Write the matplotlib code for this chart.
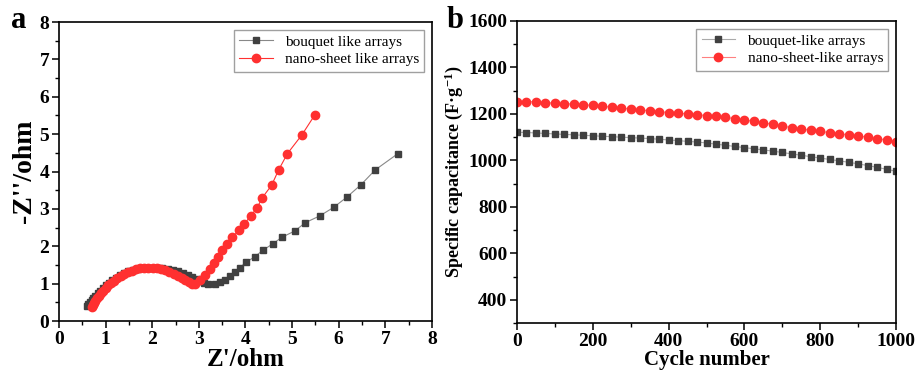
import numpy as np
import matplotlib
matplotlib.use("Agg")
import matplotlib.pyplot as plt
from matplotlib.ticker import MultipleLocator

plt.rcParams['font.family'] = ['Liberation Serif', 'DejaVu Serif']
plt.rcParams['mathtext.fontset'] = 'custom'
plt.rcParams['mathtext.bf'] = 'Liberation Serif:bold'
plt.rcParams['mathtext.rm'] = 'Liberation Serif'

# (a) Nyquist plot
bq_zre = [0.60, 0.63, 0.66, 0.70, 0.74, 0.78, 0.83, 0.88, 0.94, 1.00, 1.07, 1.14,
          1.22, 1.30, 1.39, 1.48, 1.58, 1.68, 1.78, 1.89, 2.00, 2.11, 2.22, 2.33,
          2.44, 2.55, 2.66, 2.76, 2.86, 2.95, 3.04, 3.12, 3.20, 3.35, 3.45, 3.56,
          3.67, 3.78, 3.88, 4.01, 4.20, 4.38, 4.58, 4.78, 5.06, 5.28, 5.59, 5.89,
          6.17, 6.48, 6.78, 7.27]
bq_zim = [0.40, 0.45, 0.50, 0.56, 0.62, 0.68, 0.74, 0.81, 0.88, 0.95, 1.02, 1.09,
          1.16, 1.22, 1.28, 1.33, 1.37, 1.40, 1.42, 1.43, 1.43, 1.43, 1.42, 1.40,
          1.37, 1.33, 1.28, 1.23, 1.18, 1.13, 1.08, 1.03, 0.99, 1.00, 1.05, 1.10,
          1.20, 1.30, 1.43, 1.57, 1.72, 1.90, 2.06, 2.24, 2.41, 2.63, 2.81, 3.04,
          3.31, 3.65, 4.04, 4.48]

ns_zre = [0.70, 0.72, 0.75, 0.78, 0.82, 0.86, 0.90, 0.95, 1.00, 1.06, 1.12, 1.18,
          1.25, 1.32, 1.40, 1.48, 1.56, 1.65, 1.74, 1.83, 1.92, 2.01, 2.10, 2.19,
          2.28, 2.37, 2.46, 2.55, 2.63, 2.71, 2.78, 2.85, 2.92, 3.02, 3.13, 3.24,
          3.33, 3.42, 3.50, 3.61, 3.72, 3.86, 3.97, 4.11, 4.25, 4.36, 4.56, 4.71,
          4.90, 5.21, 5.49]
ns_zim = [0.38, 0.42, 0.48, 0.54, 0.61, 0.68, 0.74, 0.81, 0.88, 0.95, 1.02, 1.08,
          1.14, 1.20, 1.26, 1.31, 1.35, 1.39, 1.41, 1.43, 1.43, 1.43, 1.41, 1.39,
          1.36, 1.32, 1.27, 1.21, 1.15, 1.09, 1.04, 1.00, 0.98, 1.10, 1.23, 1.38,
          1.54, 1.72, 1.90, 2.05, 2.24, 2.43, 2.59, 2.81, 3.03, 3.30, 3.63, 4.04,
          4.48, 4.98, 5.52]

# (b) cycling stability
cycles = list(range(0, 1001, 25))
bq_cap = [1121, 1120, 1118, 1116, 1114, 1112, 1110, 1108, 1106, 1104, 1102, 1100,
          1098, 1096, 1094, 1091, 1088, 1085, 1082, 1079, 1075, 1070, 1065, 1060,
          1055, 1050, 1045, 1040, 1034, 1028, 1022, 1016, 1010, 1004, 998, 992,
          985, 978, 970, 962, 953]
ns_cap = [1253, 1253, 1252, 1249, 1246, 1244, 1242, 1239, 1237, 1233, 1229, 1225,
          1221, 1217, 1214, 1210, 1206, 1203, 1200, 1197, 1193, 1189, 1185, 1180,
          1174, 1168, 1162, 1155, 1148, 1141, 1135, 1130, 1125, 1120, 1115, 1110,
          1105, 1100, 1094, 1088, 1080]

black = '#404040'
red = '#ff3030'

fig = plt.figure(figsize=(9.17, 3.73), dpi=100)
ax1 = fig.add_axes([0.0643, 0.1394, 0.4068, 0.8016])
ax2 = fig.add_axes([0.5638, 0.1340, 0.4133, 0.8097])

ax1.plot(bq_zre, bq_zim, color='#888888', lw=0.8, marker='s', ms=5,
         mfc=black, mec=black, label='bouquet like arrays')
ax1.plot(ns_zre, ns_zim, color=red, lw=0.8, marker='o', ms=6,
         mfc=red, mec=red, label='nano-sheet like arrays')
ax1.set_xlim(0, 8)
ax1.set_ylim(0, 8)
ax1.xaxis.set_major_locator(MultipleLocator(1))
ax1.yaxis.set_major_locator(MultipleLocator(1))
ax1.xaxis.set_minor_locator(MultipleLocator(0.5))
ax1.yaxis.set_minor_locator(MultipleLocator(0.5))
ax1.set_xlabel("Z'/ohm", fontsize=18, fontweight='bold', labelpad=0)
ax1.set_ylabel("-Z''/ohm", fontsize=20, fontweight='bold', labelpad=2)

ax2.plot(cycles, bq_cap, color='#aaaaaa', lw=0.8, marker='s', ms=5,
         mfc=black, mec=black, label='bouquet-like arrays')
ax2.plot(cycles, ns_cap, color='#ff8080', lw=0.8, marker='o', ms=6,
         mfc=red, mec=red, label='nano-sheet-like arrays')
ax2.set_xlim(0, 1000)
ax2.set_ylim(300, 1600)
ax2.xaxis.set_major_locator(MultipleLocator(200))
ax2.xaxis.set_minor_locator(MultipleLocator(100))
ax2.set_yticks([400, 600, 800, 1000, 1200, 1400, 1600])
ax2.yaxis.set_minor_locator(MultipleLocator(100))
ax2.set_xlabel('Cycle number', fontsize=15, fontweight='bold', labelpad=0)
ax2.set_ylabel('Specific capacitance (F\u00b7g$\\mathbf{^{-1}}$)', fontsize=13,
               fontweight='bold', labelpad=2)

for ax in (ax1, ax2):
    for s in ax.spines.values():
        s.set_linewidth(1.2)
    ax.tick_params(which='major', direction='out', length=5, width=1.1,
                   labelsize=14, pad=2)
    ax.tick_params(which='minor', direction='out', length=3, width=1.0)
    for t in ax.get_xticklabels() + ax.get_yticklabels():
        t.set_fontweight('bold')
    leg = ax.legend(loc='upper right', fontsize=11, frameon=True, fancybox=False,
                    edgecolor='#888888', handlelength=2.2, borderaxespad=0.5,
                    labelspacing=0.25, borderpad=0.35)
    leg.get_frame().set_linewidth(1.0)

fig.text(0.012, 0.925, 'a', fontsize=22, fontweight='bold')
fig.text(0.487, 0.925, 'b', fontsize=22, fontweight='bold')

fig.savefig('out.png', dpi=100)
